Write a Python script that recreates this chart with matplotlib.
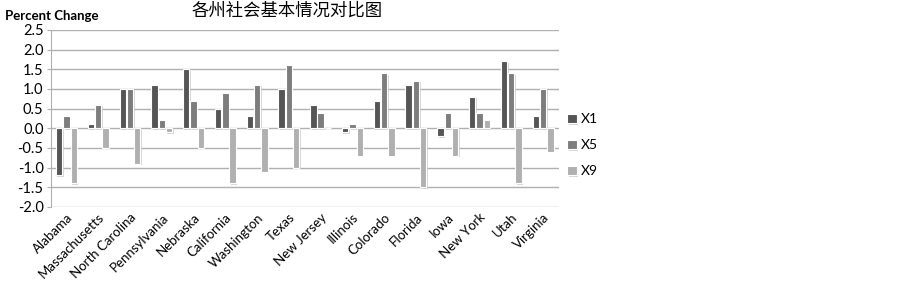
import numpy as np
import matplotlib
matplotlib.use("Agg")
import matplotlib.pyplot as plt
import matplotlib.patheffects as pe

plt.rcParams['font.family'] = ['Lato', 'Noto Sans CJK SC', 'DejaVu Sans']

states = ["Alabama", "Massachusetts", "North Carolina", "Pennsylvania", "Nebraska",
          "California", "Washington", "Texas", "New Jersey", "Illinois", "Colorado",
          "Florida", "Iowa", "New York", "Utah", "Virginia"]
x1 = [-1.2, 0.1, 1.0, 1.1, 1.5, 0.5, 0.3, 1.0, 0.6, -0.1, 0.7, 1.1, -0.2, 0.8, 1.7, 0.3]
x5 = [0.3, 0.6, 1.0, 0.2, 0.7, 0.9, 1.1, 1.6, 0.4, 0.1, 1.4, 1.2, 0.4, 0.4, 1.4, 1.0]
x9 = [-1.4, -0.5, -0.9, -0.1, -0.5, -1.4, -1.1, -1.0, 0.0, -0.7, -0.7, -1.5, -0.7, 0.2, -1.4, -0.6]
series = [("X1", x1, "#555555"), ("X5", x5, "#7d7d7d"), ("X9", x9, "#b0b0b0")]

fig = plt.figure(figsize=(9.03, 2.85), dpi=100)
ax = fig.add_axes([0.056, 0.274, 0.563, 0.621])

pos = np.arange(len(states))
w = 0.2
shadow = [pe.SimplePatchShadow(offset=(1, -1), shadow_rgbFace="#cccccc", alpha=0.8), pe.Normal()]
for i, (name, vals, col) in enumerate(series):
    bars = ax.bar(pos + (i - 1) * 0.23, vals, w, color=col, edgecolor="white",
                  linewidth=0.8, label=name, zorder=3)
    for b in bars:
        b.set_path_effects(shadow)

ax.set_xlim(-0.5, len(states) - 0.5)
ax.set_ylim(-2.0, 2.5)
ticks = np.arange(-2.0, 2.51, 0.5)
ax.set_yticks(ticks)
ax.set_yticklabels([f"{v:.1f}" for v in ticks], fontsize=10.5)
ax.yaxis.grid(True, color="#b0b0b0", linewidth=1.0, zorder=0)
ax.set_axisbelow(True)
for s in ["top", "right", "bottom"]:
    ax.spines[s].set_visible(False)
ax.spines["left"].set_color("#b0b0b0")
ax.tick_params(axis="y", length=3, color="#b0b0b0", pad=2)
ax.tick_params(axis="x", length=0, pad=3)
ax.set_xticks(pos)
ax.set_xticklabels(states, rotation=45, ha="right", rotation_mode="anchor", fontsize=9.5)

fig.text(0.005, 0.945, "Percent Change", fontsize=9.5, fontweight="bold", ha="left", va="center")
fig.text(0.318, 0.962, "各州社会基本情况对比图", fontsize=12.5, ha="center", va="center",
         family=["Noto Sans CJK SC", "DejaVu Sans"])

ax.legend(loc="center left", bbox_to_anchor=(0.622, 0.49), bbox_transform=fig.transFigure,
          frameon=False, fontsize=10, handlelength=0.7, handleheight=0.7,
          handletextpad=0.3, labelspacing=1.0, borderaxespad=0)

fig.savefig("out.png", dpi=100, facecolor="white")
